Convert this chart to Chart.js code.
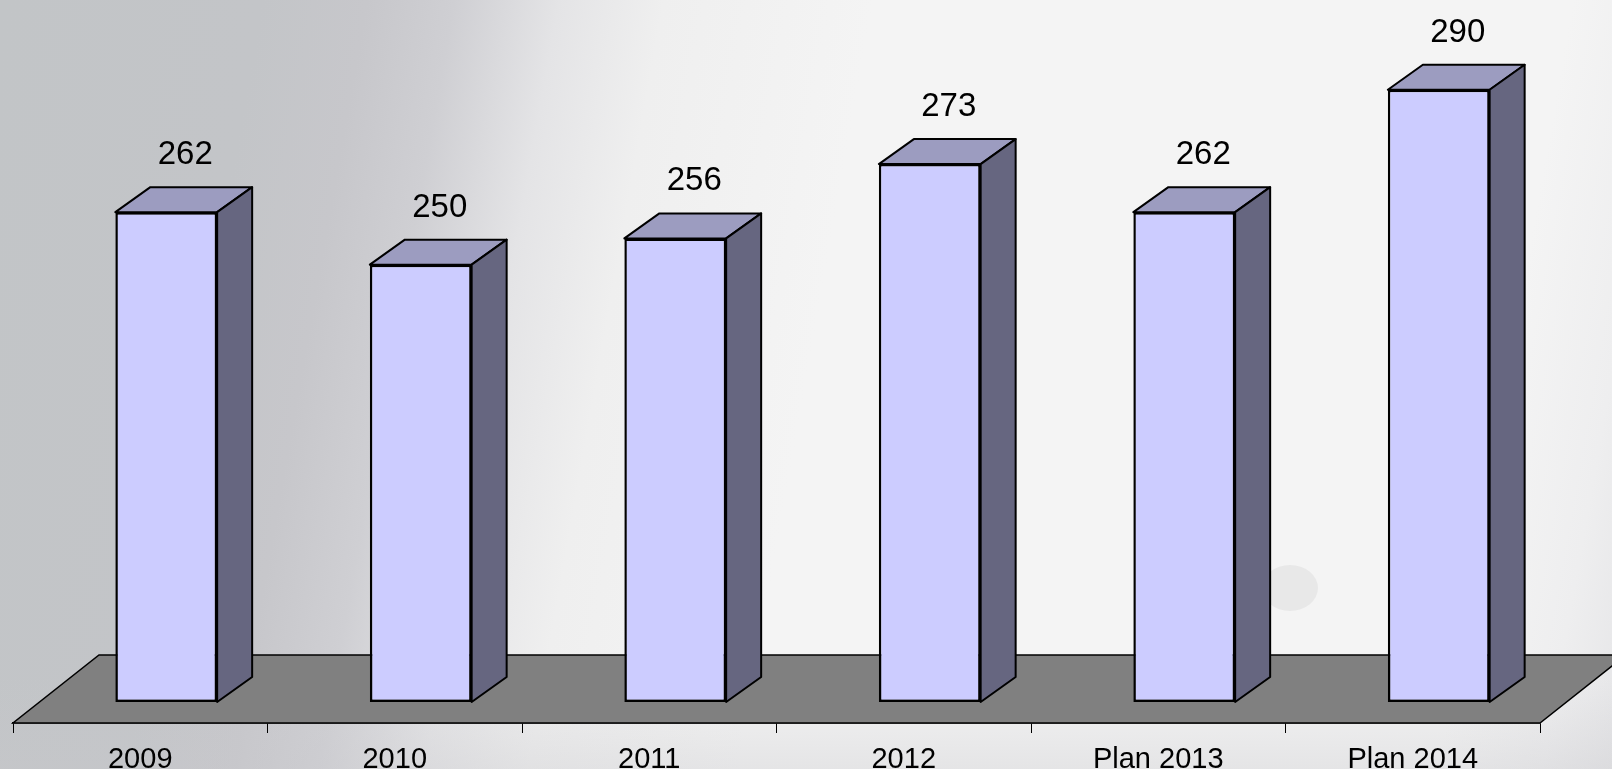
<!DOCTYPE html>
<html>
<head>
<meta charset="utf-8">
<script src="https://cdn.jsdelivr.net/npm/chart.js@4/dist/chart.umd.min.js"></script>
<style>
  html, body { margin: 0; padding: 0; overflow: hidden; }
  body {
    width: 1612px; height: 769px; position: relative;
    background:
      linear-gradient(180deg, rgba(244,244,244,0) 88%, rgba(200,200,204,0.35) 100%),
      linear-gradient(100deg, #c2c5c7 0%, #c3c5c8 15%, #c7c7cb 21%, #cfcfd3 26%, #e4e4e6 32%, #efefef 38%, #f4f4f4 50%, #f4f4f4 90%, #eeeeef 96%, #e6e6e8 100%);
  }
  #blob {
    position: absolute; left: 1262px; top: 565px; width: 56px; height: 46px;
    border-radius: 50%; background: #e8e8e8;
  }
  #chart { position: absolute; left: 0; top: 0; }
</style>
</head>
<body>
<div id="blob"></div>
<canvas id="chart" width="1612" height="787"></canvas>
<script>
(function() {
    'use strict';

    // --- Data ---
    const categories = ['2009', '2010', '2011', '2012', 'Plan 2013', 'Plan 2014'];
    const values = [262, 250, 256, 273, 262, 290];
    const axisMin = 150;
    const axisMax = 300;

    // --- 3D look ---
    const FONT = '"Liberation Sans", Arial, sans-serif';
    const FLOOR_DX = 86, FLOOR_DY = -68;   // floor depth
    const BAR_DX = 26, BAR_DY = -21;       // bars sit half way into the floor
    const DEPTH_DX = 35, DEPTH_DY = -25;   // bar depth
    const FRONT = '#ccccff', TOP = '#9c9cc0', SIDE = '#666680';

    const poly = (ctx, pts, fill) => {
        ctx.beginPath();
        ctx.moveTo(pts[0][0], pts[0][1]);
        pts.slice(1).forEach(p => ctx.lineTo(p[0], p[1]));
        ctx.closePath();
        ctx.fillStyle = fill;
        ctx.fill();
        ctx.stroke();
    };

    const depthBars = {
        id: 'depthBars',
        beforeDatasetsDraw(chart) {
            const { ctx, chartArea: a } = chart;
            ctx.save();
            ctx.lineWidth = 1.5;
            ctx.strokeStyle = '#000';
            poly(ctx, [
                [a.left, a.bottom], [a.right, a.bottom],
                [a.right + FLOOR_DX, a.bottom + FLOOR_DY], [a.left + FLOOR_DX, a.bottom + FLOOR_DY]
            ], '#808080');
            ctx.restore();
            ctx.save();
            ctx.translate(BAR_DX, BAR_DY);
        },
        afterDatasetsDraw(chart) {
            const ctx = chart.ctx;
            ctx.lineWidth = 2;
            ctx.lineJoin = 'round';
            ctx.strokeStyle = '#000';
            chart.getDatasetMeta(0).data.forEach((bar, i) => {
                const l = bar.x - bar.width / 2, r = bar.x + bar.width / 2;
                const t = bar.y, b = bar.base;
                poly(ctx, [[l, t], [l + DEPTH_DX, t + DEPTH_DY], [r + DEPTH_DX, t + DEPTH_DY], [r, t]], TOP);
                poly(ctx, [[r, t], [r + DEPTH_DX, t + DEPTH_DY], [r + DEPTH_DX, b + DEPTH_DY], [r, b]], SIDE);
                ctx.fillStyle = '#000';
                ctx.font = '33px ' + FONT;
                ctx.textAlign = 'center';
                ctx.textBaseline = 'alphabetic';
                ctx.fillText(String(values[i]), bar.x + 19, t + DEPTH_DY - 23);
            });
            ctx.restore();
        }
    };

    new Chart(document.getElementById('chart'), {
        type: 'bar',
        data: {
            labels: categories,
            datasets: [{
                data: values,
                base: axisMin,
                backgroundColor: FRONT,
                borderColor: '#000',
                borderWidth: 2.5,
                borderSkipped: false,
                categoryPercentage: 1,
                barPercentage: 0.4,
                clip: false
            }]
        },
        options: {
            responsive: false,
            animation: false,
            layout: { padding: { left: 13, right: 72, top: 67, bottom: 0 } },
            plugins: { legend: { display: false }, tooltip: { enabled: false } },
            scales: {
                x: {
                    offset: true,
                    grid: { offset: true, drawOnChartArea: false, tickLength: 10, color: '#000', lineWidth: 1 },
                    border: { display: true, color: '#000', width: 1.5 },
                    ticks: { color: '#000', padding: 12.5, font: { family: FONT, size: 29, lineHeight: 1 } }
                },
                y: { display: false, min: axisMin, max: axisMax }
            }
        },
        plugins: [depthBars]
    });
})();
</script>
</body>
</html>
